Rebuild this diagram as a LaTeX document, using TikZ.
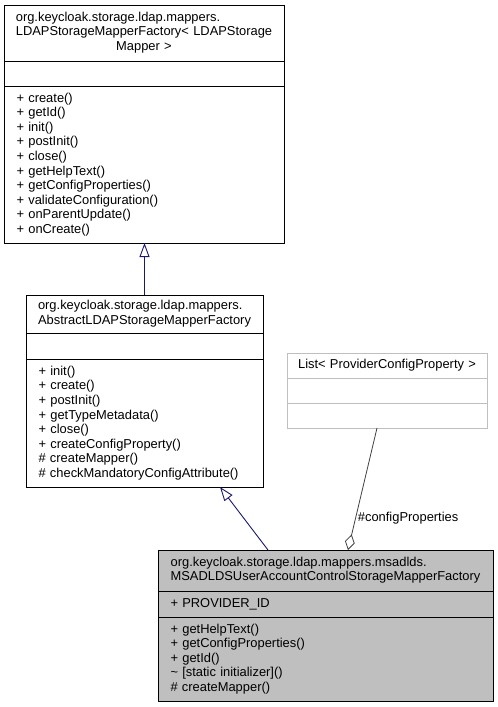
\documentclass[tikz,border=0pt]{standalone}
\usepackage{fontspec}
\setmainfont{Liberation Sans}
\usetikzlibrary{positioning,arrows.meta}
\definecolor{edgeblue}{HTML}{191970}
\definecolor{grey75}{HTML}{BFBFBF}
\definecolor{grey25}{HTML}{404040}
\tikzset{
    part/.style={draw, outer sep=0pt, inner ysep=0pt, line width=0.9pt,
        font=\fontsize{12.9}{14.6}\selectfont},
    head/.style={part, inner xsep=4pt, align=center},
    body/.style={part, inner xsep=12.5pt, align=left},
    inherit/.style={edgeblue, line width=0.9pt, -{Triangle[open, length=14pt, width=10pt, fill=white]}},
    aggr/.style={grey25, line width=0.8pt, {Diamond[open, length=16pt, width=10pt, fill=white]}-},
}
\begin{document}
\begin{tikzpicture}[x=1pt, y=1pt]
    \useasboundingbox (0,0) rectangle (498,-707);
    % base factory
    \node[head, text width=272pt, minimum height=56pt] (base) at (144,-33)
        {\begin{tabular}{@{}l@{}}org.keycloak.storage.ldap.mappers.\\LDAPStorageMapperFactory< LDAPStorage\\
         \multicolumn{1}{@{}c@{}}{Mapper >}\end{tabular}};
    \node[body, text width=255pt, minimum height=25pt, below=0pt of base] (basea) {};
    \node[body, text width=255pt, minimum height=157pt, below=0pt of basea] (basem)
        {+ create()\\+ getId()\\+ init()\\+ postInit()\\+ close()\\+ getHelpText()\\
         + getConfigProperties()\\+ validateConfiguration()\\+ onParentUpdate()\\+ onCreate()};
    % abstract factory
    \node[head, text width=229pt, minimum height=38pt] (abs) at (144.5,-314)
        {\begin{tabular}{@{}l@{}}org.keycloak.storage.ldap.mappers.\\AbstractLDAPStorageMapperFactory\end{tabular}};
    \node[body, text width=212pt, minimum height=26pt, below=0pt of abs] (absa) {};
    \node[body, text width=212pt, minimum height=128pt, below=0pt of absa] (absm)
        {+ init()\\+ create()\\+ postInit()\\+ getTypeMetadata()\\+ close()\\+ createConfigProperty()\\
         \# createMapper()\\\# checkMandatoryConfigAttribute()};
    % list
    \node[head, draw=grey75, text width=192pt, minimum height=25pt] (list) at (387,-365.5)
        {List< ProviderConfigProperty >};
    \node[body, draw=grey75, text width=175pt, minimum height=25pt, below=0pt of list] (lista) {};
    \node[body, draw=grey75, text width=175pt, minimum height=25pt, below=0pt of lista] (listm) {};
    % msadlds factory
    \node[head, fill=grey75, text width=327pt, minimum height=41pt] (msad) at (325.5,-570.5)
        {\begin{tabular}{@{}l@{}}org.keycloak.storage.ldap.mappers.msadlds.\\MSADLDSUserAccountControlStorageMapperFactory\end{tabular}};
    \node[body, fill=grey75, text width=310pt, minimum height=26pt, below=0pt of msad] (msada)
        {+ PROVIDER\_ID};
    \node[body, fill=grey75, text width=310pt, minimum height=84pt, below=0pt of msada] (msadm)
        {+ getHelpText()\\+ getConfigProperties()\\+ getId()\\\textasciitilde{} [static initializer]()\\\# createMapper()};

    \draw[inherit] (abs.north) -- (abs.north |- basem.south);
    \draw[inherit] ([xshift=110pt]msad.north west) -- ([xshift=194pt]absm.south west);
    \draw[aggr] ([xshift=190pt]msad.north west) -- ([xshift=90pt]listm.south west)
        node[pos=0.26, anchor=west, inner sep=2pt, text=black, font=\fontsize{12.9}{14.6}\selectfont] (cfg) {\#configProperties};
\end{tikzpicture}
\end{document}
